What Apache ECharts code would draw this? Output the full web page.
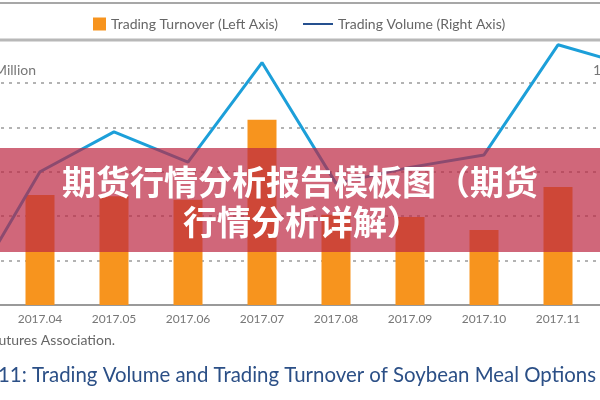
<!DOCTYPE html>
<html><head><meta charset="utf-8">
<script src="https://cdn.jsdelivr.net/npm/echarts@6/dist/echarts.min.js"></script>
<style>html,body{margin:0;padding:0;background:#fff;overflow:hidden;width:600px;height:400px;position:relative;}
#c{position:absolute;left:-71px;top:0;width:740px;height:400px;}</style>
</head><body><div id="c"></div>
<script>
const months = ['2017.03','2017.04','2017.05','2017.06','2017.07','2017.08','2017.09','2017.10','2017.11','2017.12'];
const turnover = [10, 248, 245, 237, 417, 203, 198, 169, 266, 230];
const volume = [8, 150, 195, 161, 273, 137, 155, 169, 293, 269];
const turnoverName = 'Trading Turnover (Left Axis)';
const volumeName = 'Trading Volume (Right Axis)';
const bannerLines = ['期货行情分析报告模板图（期货', '行情分析详解）'];

const OX = 71; // offset of the wider canvas
const chart = echarts.init(document.getElementById('c'), null, {renderer:'canvas'});
const font = 'Lato, "Liberation Sans", sans-serif';
chart.setOption({
  animation:false,
  backgroundColor:'#fff',
  legend:[
    {data:[turnoverName], left:88+OX, top:12, itemWidth:13, itemHeight:13, icon:'rect',
     textStyle:{color:'#666', fontSize:14, fontFamily:font}},
    {data:[{name:volumeName, itemStyle:{color:'#25508f'}, lineStyle:{color:'#25508f'}}], left:298+OX, top:12, itemWidth:30, itemHeight:2, icon:'rect',
     textStyle:{color:'#666', fontSize:14, fontFamily:font, lineHeight:14}}
  ],
  grid:{left:0, right:0, top:83, bottom:95, containLabel:false},
  xAxis:{type:'category', data:months, boundaryGap:true,
    axisLine:{lineStyle:{color:'#9a9a9a', width:2}}, axisTick:{show:false},
    axisLabel:{color:'#777', fontSize:12, fontFamily:font, margin:8}},
  yAxis:[
    {type:'value', min:0, max:500, interval:100, axisLabel:{show:false}, axisLine:{show:false}, axisTick:{show:false},
     splitLine:{lineStyle:{color:'#b3b3b3', width:2, type:[3,5]}}},
    {type:'value', min:0, max:250, interval:50, axisLabel:{show:false}, axisLine:{show:false}, axisTick:{show:false},
     splitLine:{show:false}}
  ],
  series:[
    {name:turnoverName, type:'bar', yAxisIndex:0, data:turnover, barWidth:29, itemStyle:{color:'#f7941e'}, z:2},
    {name:volumeName, type:'line', yAxisIndex:1, data:volume, clip:false, symbol:'none',
     lineStyle:{color:'#1c9fd9', width:3}, itemStyle:{color:'#1c9fd9'}, z:3}
  ],
  graphic:[
    {type:'line', shape:{x1:0,y1:3,x2:740,y2:3}, style:{stroke:'#8a8a8a', lineWidth:1.5}, z:10},
    {type:'line', shape:{x1:0,y1:40,x2:740,y2:40}, style:{stroke:'#b8b8b8', lineWidth:3}, z:10},
    {type:'text', x:36+OX, y:63, style:{text:'RMB Million', fill:'#777', font:'14px '+font, textAlign:'right'}, z:10},
    {type:'text', x:593+OX, y:63, style:{text:'10,000 Lots', fill:'#777', font:'14px '+font, textAlign:'left'}, z:10},
    {type:'text', x:115+OX, y:333, style:{text:'Source: China Futures Association.', fill:'#666', font:'14px '+font, textAlign:'right'}, z:10},
    {type:'text', x:-2+OX, y:365, style:{text:'11: Trading Volume and Trading Turnover of Soybean Meal Options in 2017', fill:'#2b4f86', font:'20.4px '+font, textAlign:'left'}, z:10},
    {type:'rect', shape:{x:0,y:148,width:740,height:104}, style:{fill:'rgba(188,39,65,0.7)'}, z:50},
    {type:'text', x:300+OX, y:182, style:{text:bannerLines[0], fill:'#fff', font:'bold 34px "Noto Sans CJK SC"', textAlign:'center', textVerticalAlign:'middle', shadowBlur:3, shadowColor:'rgba(0,0,0,0.35)'}, z:60},
    {type:'text', x:302+OX, y:222, style:{text:bannerLines[1], fill:'#fff', font:'bold 34px "Noto Sans CJK SC"', textAlign:'center', textVerticalAlign:'middle', shadowBlur:3, shadowColor:'rgba(0,0,0,0.35)'}, z:60}
  ]
});
</script></body></html>
